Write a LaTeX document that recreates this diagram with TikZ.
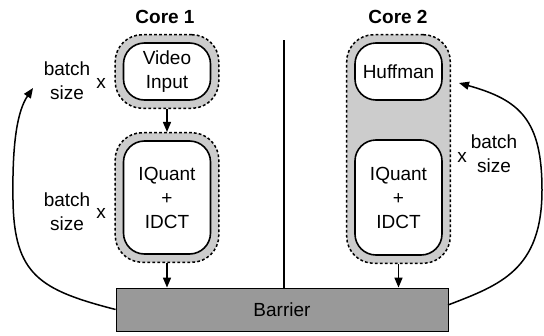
\documentclass[tikz,border=0pt]{standalone}
\usepackage{fontspec}
\setmainfont{Liberation Sans}
\usetikzlibrary{fit,arrows.meta,backgrounds}
\definecolor{ringgray}{HTML}{CCCCCC}
\definecolor{bargray}{HTML}{999999}
\begin{document}
\begin{tikzpicture}[x=1pt,y=-1pt,
  every node/.style={font=\fontsize{19}{24}\selectfont},
  innerbox/.style={draw, line width=1.6pt, fill=white, rounded corners=21pt,
    minimum width=87pt, align=center, inner sep=0pt},
  outerbox/.style={draw, dash pattern=on 2.8pt off 2.2pt, line width=1.5pt,
    fill=ringgray, rounded corners=27pt, inner sep=7.5pt},
  conn/.style={line width=1.5pt, -{Triangle[length=10pt,width=8pt]}},
  lbl/.style={align=center, inner sep=0pt},
  title/.style={font=\fontsize{19}{24}\selectfont\bfseries, inner sep=0pt, anchor=base}]
\useasboundingbox (0,0) rectangle (544,335);

% titles
\node[title] (t1) at (165,23) {Core 1};
\node[title] (t2) at (398,23) {Core 2};

% inner boxes
\node[innerbox, minimum height=57pt] (vid) at (167,71.5) {Video\\Input};
\node[innerbox, minimum height=113pt] (iq1) at (167,197.5) {IQuant\\+\\IDCT};
\node[innerbox, minimum height=57pt] (huf) at (398.5,71.5) {Huffman};
\node[innerbox, minimum height=115pt] (iq2) at (398.5,197.5) {IQuant\\+\\IDCT};

% outer dashed shapes
\begin{pgfonlayer}{background}
  \node[outerbox, fit=(vid)] (vido) {};
  \node[outerbox, fit=(iq1)] (iq1o) {};
  \node[outerbox, fit=(huf)(iq2)] (c2o) {};
\end{pgfonlayer}

% barrier
\node[draw, line width=0.8pt, fill=bargray, minimum width=332pt, minimum height=43pt, inner sep=0pt] (bar) at (282,309.5) {Barrier};

% divider
\coordinate (divtop) at (284,40);
\draw[line width=1.6pt] (divtop) -- (divtop |- bar.north);

% straight arrows
\draw[conn] (vido.south) -- (iq1o.north);
\draw[conn] (iq1o.south) -- (iq1o.south |- bar.north);
\draw[conn] (c2o.south) -- (c2o.south |- bar.north);

% labels
\node[lbl] (b1) at (67,81) {batch\\size};
\node[lbl] (x1) at (101,83) {x};
\node[lbl] (b2) at (67,212) {batch\\size};
\node[lbl] (x2) at (101,213) {x};
\node[lbl] (b3) at (494,154) {batch\\size};
\node[lbl] (x3) at (462,157) {x};

% curved arrows
\coordinate (ltip) at (33,88);
\coordinate (rtip) at (459,83);
\coordinate (rstart) at (448,305);
\draw[conn] (bar.west) .. controls (40,290) and (14,275) .. (13,200)
  .. controls (12,140) and (18,110) .. (ltip);
\draw[conn] (rstart) .. controls (500,285) and (542,270) .. (542,190)
  .. controls (542,120) and (520,100) .. (rtip);
\end{tikzpicture}
\end{document}
